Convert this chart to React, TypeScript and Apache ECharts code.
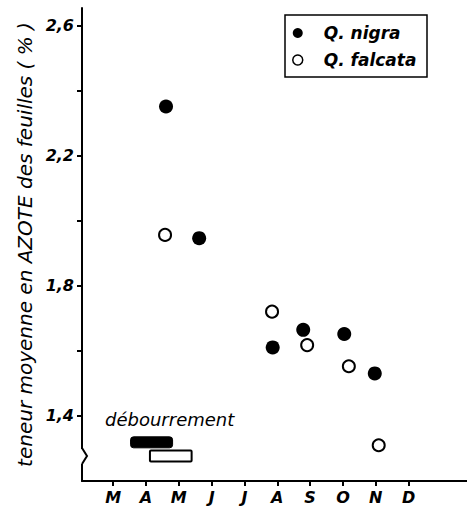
import React, { useEffect, useRef } from "react";
import * as echarts from "echarts";

const FONT = "'DejaVu Sans', sans-serif";

// Month ticks (3 = March ... 12 = December)
const monthValues = [3, 4, 5, 6, 7, 8, 9, 10, 11, 12];
const monthLetters = ["M", "A", "M", "J", "J", "A", "S", "O", "N", "D"];

// Y-axis ticks and labels
const yTickValues = [1.4, 1.6, 1.8, 2.0, 2.2, 2.4, 2.6];
const yLabelValues = [1.4, 1.8, 2.2, 2.6];

// Q. nigra (filled)
const nigraMonth = [4.61, 5.62, 7.86, 8.79, 10.04, 10.97];
const nigraN = [2.352, 1.947, 1.611, 1.665, 1.652, 1.531];

// Q. falcata (open)
const falcataMonth = [4.58, 7.84, 8.91, 10.18, 11.09];
const falcataN = [1.957, 1.721, 1.618, 1.553, 1.31];

// Débourrement (bud break) periods: [nigra, falcata]
const budStart = [3.53, 4.12];
const budEnd = [4.81, 5.39];
const budLevel = [1.319, 1.277];

export default function App() {
  const ref = useRef<HTMLDivElement>(null);

  useEffect(() => {
    if (!ref.current) return;
    const chart = echarts.init(ref.current, null, { renderer: "svg" });

    const nigraData = nigraMonth.map((m, i) => [m, nigraN[i]]);
    const falcataData = falcataMonth.map((m, i) => [m, falcataN[i]]);
    const budData = budStart.map((s, i) => [s, budEnd[i], budLevel[i]]);

    chart.setOption({
      animation: false,
      backgroundColor: "#ffffff",
      grid: { left: 82, right: 0, top: 8, bottom: 32, containLabel: false },
      xAxis: {
        type: "value",
        min: 2.05,
        max: 13.78,
        axisLine: { show: true, lineStyle: { color: "#000", width: 2 } },
        axisTick: {
          show: true,
          customValues: monthValues,
          length: 5,
          lineStyle: { color: "#000", width: 2 },
        },
        axisLabel: {
          show: true,
          customValues: monthValues,
          margin: 8,
          color: "#000",
          fontFamily: FONT,
          fontStyle: "italic",
          fontWeight: "bold",
          fontSize: 16,
          formatter: (v: number) => {
            const idx = monthValues.indexOf(Math.round(v));
            return idx >= 0 ? monthLetters[idx] : "";
          },
        },
        splitLine: { show: false },
      },
      yAxis: {
        type: "value",
        min: 1.2,
        max: 2.655,
        name: "teneur moyenne en AZOTE des feuilles ( % )",
        nameLocation: "middle",
        nameRotate: 90,
        nameGap: 44,
        nameTextStyle: {
          color: "#000",
          fontFamily: FONT,
          fontStyle: "italic",
          fontSize: 20,
        },
        axisLine: { show: true, lineStyle: { color: "#000", width: 2 } },
        axisTick: {
          show: true,
          customValues: yTickValues,
          length: 5,
          lineStyle: { color: "#000", width: 2 },
        },
        axisLabel: {
          show: true,
          customValues: yLabelValues,
          margin: 8,
          padding: [0, 0, 7, 0],
          color: "#000",
          fontFamily: FONT,
          fontStyle: "italic",
          fontWeight: "bold",
          fontSize: 16,
          formatter: (v: number) => v.toFixed(1).replace(".", ","),
        },
        splitLine: { show: false },
      },
      legend: {
        orient: "vertical",
        left: 292,
        top: 23,
        padding: 0,
        itemGap: 7,
        itemWidth: 10,
        itemHeight: 10,
        data: [
          { name: "Q. nigra", icon: "circle", itemStyle: { color: "#000", borderWidth: 0 } },
          {
            name: "Q. falcata",
            icon: "circle",
            itemStyle: { color: "#fff", borderColor: "#000", borderWidth: 1.5 },
          },
        ],
        textStyle: {
          color: "#000",
          fontFamily: FONT,
          fontStyle: "italic",
          fontWeight: "bold",
          fontSize: 17,
          lineHeight: 20,
          padding: [0, 0, 0, 16],
        },
      },
      graphic: [
        // legend frame
        {
          type: "rect",
          z: 100,
          shape: { x: 285, y: 15, width: 142, height: 62 },
          style: { fill: "none", stroke: "#000", lineWidth: 1.5 },
        },
        // axis break on the y axis
        {
          type: "rect",
          z: 100,
          shape: { x: 79, y: 449, width: 6, height: 15 },
          style: { fill: "#fff" },
        },
        {
          type: "polyline",
          z: 101,
          shape: { points: [[82, 448], [87, 456], [82, 464]] },
          style: { fill: "none", stroke: "#000", lineWidth: 2 },
        },
        // débourrement label
        {
          type: "text",
          z: 100,
          x: 105,
          y: 410,
          style: {
            text: "débourrement",
            fill: "#000",
            font: `italic 500 18px ${FONT}`,
            verticalAlign: "top",
            align: "left",
          },
        },
      ],
      series: [
        {
          name: "Q. nigra",
          type: "scatter",
          data: nigraData,
          symbol: "circle",
          symbolSize: 14,
          itemStyle: { color: "#000", opacity: 1 },
          z: 5,
        },
        {
          name: "Q. falcata",
          type: "scatter",
          data: falcataData,
          symbol: "circle",
          symbolSize: 12,
          itemStyle: { color: "#fff", borderColor: "#000", borderWidth: 2, opacity: 1 },
          z: 5,
        },
        {
          name: "débourrement",
          type: "custom",
          data: budData,
          encode: { x: [0, 1], y: 2 },
          renderItem: (params: any, api: any) => {
            const start = api.coord([api.value(0), api.value(2)]);
            const end = api.coord([api.value(1), api.value(2)]);
            const h = 11;
            const filled = params.dataIndex === 0;
            return {
              type: "rect",
              shape: {
                x: start[0],
                y: start[1] - h / 2,
                width: end[0] - start[0],
                height: h,
                r: filled ? 3 : 1,
              },
              style: filled
                ? { fill: "#000", stroke: "#000", lineWidth: 1 }
                : { fill: "#fff", stroke: "#000", lineWidth: 2 },
            };
          },
          z: 4,
        },
      ],
    });

    return () => chart.dispose();
  }, []);

  return (
    <div
      ref={ref}
      style={{ position: "fixed", left: 0, top: 0, width: 467, height: 513, background: "#fff" }}
    />
  );
}
